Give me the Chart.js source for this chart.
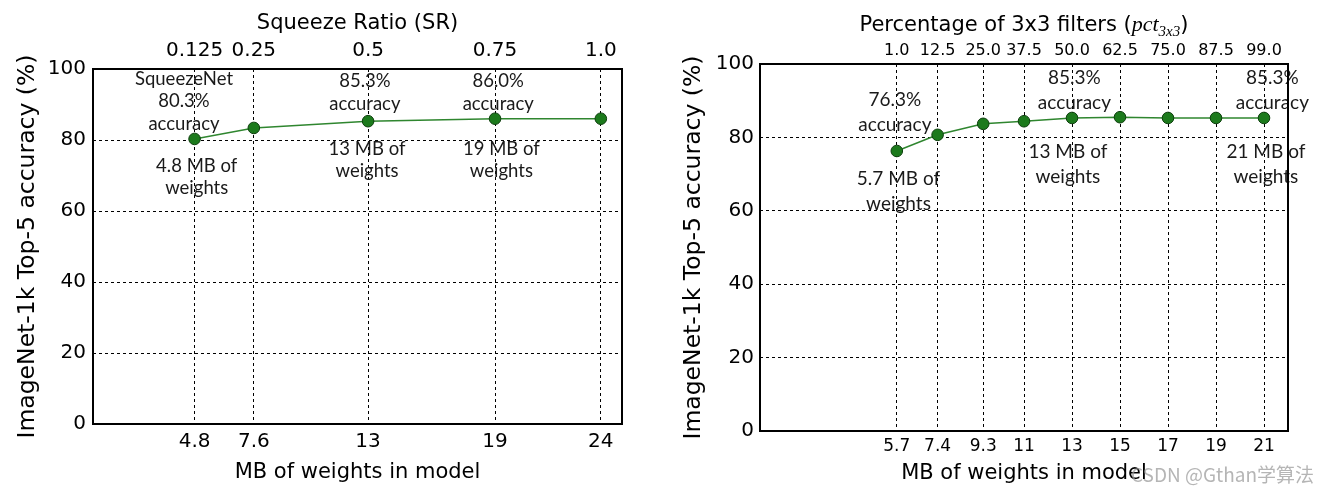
<!DOCTYPE html>
<html>
<head>
<meta charset="utf-8">
<script src="https://cdn.jsdelivr.net/npm/chart.js@4/dist/chart.umd.min.js"></script>
<style>
  body { margin: 0; background: #fff; width: 1329px; height: 492px; overflow: hidden; position: relative; }
  canvas { position: absolute; top: 0; }
  #left { left: 0; }
  #right { left: 660px; }
  #mark { position: absolute; left: 1131px; top: 460px; font: 19px "Noto Sans CJK SC", "Noto Sans", sans-serif;
          color: rgba(150, 150, 150, 0.7); white-space: nowrap; }
</style>
</head>
<body>
<canvas id="left" width="660" height="492"></canvas>
<canvas id="right" width="669" height="492"></canvas>
<div id="mark">CSDN @Gthan学算法</div>
<script>
// left panel: squeeze ratio sweep
const leftSizes = [4.8, 7.6, 13, 19, 24];
const leftSizeLabels = ['4.8', '7.6', '13', '19', '24'];
const leftSR = ['0.125', '0.25', '0.5', '0.75', '1.0'];
const leftAcc = [80.3, 83.4, 85.3, 86.0, 86.0];

// right panel: percentage of 3x3 filters sweep
const rightSizes = [5.7, 7.4, 9.3, 11, 13, 15, 17, 19, 21];
const rightSizeLabels = ['5.7', '7.4', '9.3', '11', '13', '15', '17', '19', '21'];
const rightPct = ['1.0', '12.5', '25.0', '37.5', '50.0', '62.5', '75.0', '87.5', '99.0'];
const rightAcc = [76.3, 80.7, 83.7, 84.4, 85.3, 85.5, 85.3, 85.3, 85.3];

const yTicks = [0, 20, 40, 60, 80, 100];

const leftNotes = [
  ['SqueezeNet', '80.3%', 'accuracy'],
  ['4.8 MB of', 'weights'],
  ['85.3%', 'accuracy'],
  ['13 MB of', 'weights'],
  ['86.0%', 'accuracy'],
  ['19 MB of', 'weights']
];
const rightNotes = [
  ['76.3%', 'accuracy'],
  ['5.7 MB of', 'weights'],
  ['85.3%', 'accuracy'],
  ['13 MB of', 'weights'],
  ['85.3%', 'accuracy'],
  ['21 MB of', 'weights']
];

const yTitle = 'ImageNet-1k Top-5 accuracy (%)';
const xTitle = 'MB of weights in model';
const leftTopTitle = 'Squeeze Ratio (SR)';
const rightTopTitle = ['Percentage of 3x3 filters (', 'pct', '3x3', ')'];

// where each note block sits, in data units (x, y of first line)
const leftNoteAt = [[4.3, 97.2], [4.9, 72.7], [12.85, 96.6], [12.95, 77.5], [19.15, 96.6], [19.3, 77.5]];
const rightNoteAt = [[5.62, 90.2], [5.77, 68.7], [13.1, 96.2], [12.83, 76.0], [21.35, 96.2], [21.08, 76.0]];

const FONT = '"DejaVu Sans", sans-serif';

function notesPlugin(notes, at, size, gap) {
  return {
    id: 'notes',
    afterDatasetsDraw(chart) {
      const {ctx, scales: {x, y}} = chart;
      ctx.save();
      ctx.font = size + 'px Lato';
      ctx.fillStyle = '#1a1a1a';
      ctx.textAlign = 'center';
      ctx.textBaseline = 'middle';
      notes.forEach((lines, i) => {
        const px = x.getPixelForValue(at[i][0]);
        const py = y.getPixelForValue(at[i][1]);
        lines.forEach((t, j) => ctx.fillText(t, px, py + j * gap));
      });
      ctx.restore();
    }
  };
}

const framePlugin = {
  id: 'frame',
  afterDraw(chart) {
    const {ctx, chartArea: a} = chart;
    ctx.save();
    ctx.strokeStyle = '#000';
    ctx.lineWidth = 2;
    ctx.strokeRect(a.left, a.top, a.right - a.left, a.bottom - a.top);
    ctx.restore();
  }
};

const pctTitlePlugin = {
  id: 'pctTitle',
  afterDraw(chart) {
    const {ctx, chartArea: a} = chart;
    const parts = [
      {t: rightTopTitle[0], f: '21px ' + FONT, dy: 0},
      {t: rightTopTitle[1], f: 'italic 22px "Liberation Serif", serif', dy: 0},
      {t: rightTopTitle[2], f: 'italic 15px "Liberation Serif", serif', dy: 5},
      {t: rightTopTitle[3], f: '21px ' + FONT, dy: 0}
    ];
    ctx.save();
    ctx.fillStyle = '#000';
    ctx.textBaseline = 'alphabetic';
    let total = 0;
    parts.forEach(p => { ctx.font = p.f; p.w = ctx.measureText(p.t).width; total += p.w; });
    let x = (a.left + a.right) / 2 - total / 2;
    const base = 31;
    parts.forEach(p => { ctx.font = p.f; ctx.fillText(p.t, x, base + p.dy); x += p.w; });
    ctx.restore();
  }
};

function makeChart(id, cfg) {
  const dash = [3, 3];
  return new Chart(document.getElementById(id), {
    type: 'line',
    data: {
      datasets: [{
        data: cfg.sizes.map((v, i) => ({x: v, y: cfg.acc[i]})),
        borderColor: '#2f862f',
        borderWidth: 1.5,
        backgroundColor: '#1c7a1c',
        pointBackgroundColor: '#1c7a1c',
        pointBorderColor: '#0d3f0d',
        pointBorderWidth: 1,
        pointRadius: 5.8,
        tension: 0
      }]
    },
    options: {
      responsive: false,
      animation: false,
      layout: {padding: {left: 0, right: cfg.padRight, top: 0, bottom: 0}},
      plugins: {legend: {display: false}, tooltip: {enabled: false}},
      scales: {
        x: {
          type: 'linear', position: 'bottom', min: 0, max: cfg.xMax,
          afterBuildTicks: s => { s.ticks = cfg.sizes.map(v => ({value: v})); },
          afterFit: s => { s.height = cfg.bottomH; },
          ticks: {
            autoSkip: false, maxRotation: 0, minRotation: 0, padding: cfg.bottomPad,
            color: '#000', font: {family: FONT, size: cfg.bottomSize},
            callback: (v, i) => cfg.sizeLabels[i]
          },
          grid: {color: '#000', lineWidth: 1, drawTicks: false},
          border: {display: false, dash: dash},
          title: {display: true, text: xTitle, color: '#000', font: {family: FONT, size: 21},
                  padding: {top: 0, bottom: cfg.xTitlePad}}
        },
        x2: {
          type: 'linear', position: 'top', min: 0, max: cfg.xMax,
          afterBuildTicks: s => { s.ticks = cfg.sizes.map(v => ({value: v})); },
          afterFit: s => { s.height = cfg.topH; },
          ticks: {
            autoSkip: false, maxRotation: 0, minRotation: 0, padding: cfg.topPad,
            color: '#000', font: {family: FONT, size: cfg.topSize},
            callback: (v, i) => cfg.topLabels[i]
          },
          grid: {drawOnChartArea: false, drawTicks: false},
          border: {display: false},
          title: {display: !!cfg.topTitle, text: cfg.topTitle || '', color: '#000',
                  font: {family: FONT, size: 21}, padding: {top: 11, bottom: 0}}
        },
        y: {
          min: 0, max: 100,
          afterBuildTicks: s => { s.ticks = yTicks.map(v => ({value: v})); },
          afterFit: s => { s.width = cfg.yW; },
          ticks: {padding: cfg.yPad, color: '#000', font: {family: FONT, size: 20}},
          grid: {color: '#000', lineWidth: 1, drawTicks: false},
          border: {display: false, dash: dash},
          title: {display: true, text: yTitle, color: '#000', font: {family: FONT, size: 23.5},
                  padding: {top: cfg.yTitlePad, bottom: 0}}
        }
      }
    },
    plugins: cfg.plugins
  });
}

makeChart('left', {
  sizes: leftSizes, acc: leftAcc, sizeLabels: leftSizeLabels, topLabels: leftSR,
  topTitle: leftTopTitle, xMax: 25, padRight: 38,
  bottomH: 68, topH: 69, yW: 93,
  bottomPad: 6, topPad: 6, yPad: 7, bottomSize: 20, topSize: 20,
  xTitlePad: 7, yTitlePad: 13.5,
  plugins: [notesPlugin(leftNotes, leftNoteAt, 18.5, 22.5), framePlugin]
});

makeChart('right', {
  sizes: rightSizes, acc: rightAcc, sizeLabels: rightSizeLabels, topLabels: rightPct,
  topTitle: null, xMax: 22, padRight: 41,
  bottomH: 61, topH: 64, yW: 100,
  bottomPad: 5, topPad: 3.5, yPad: 6, bottomSize: 17, topSize: 16,
  xTitlePad: 6, yTitlePad: 20,
  plugins: [notesPlugin(rightNotes, rightNoteAt, 19, 25), framePlugin, pctTitlePlugin]
});
</script>
</body>
</html>
